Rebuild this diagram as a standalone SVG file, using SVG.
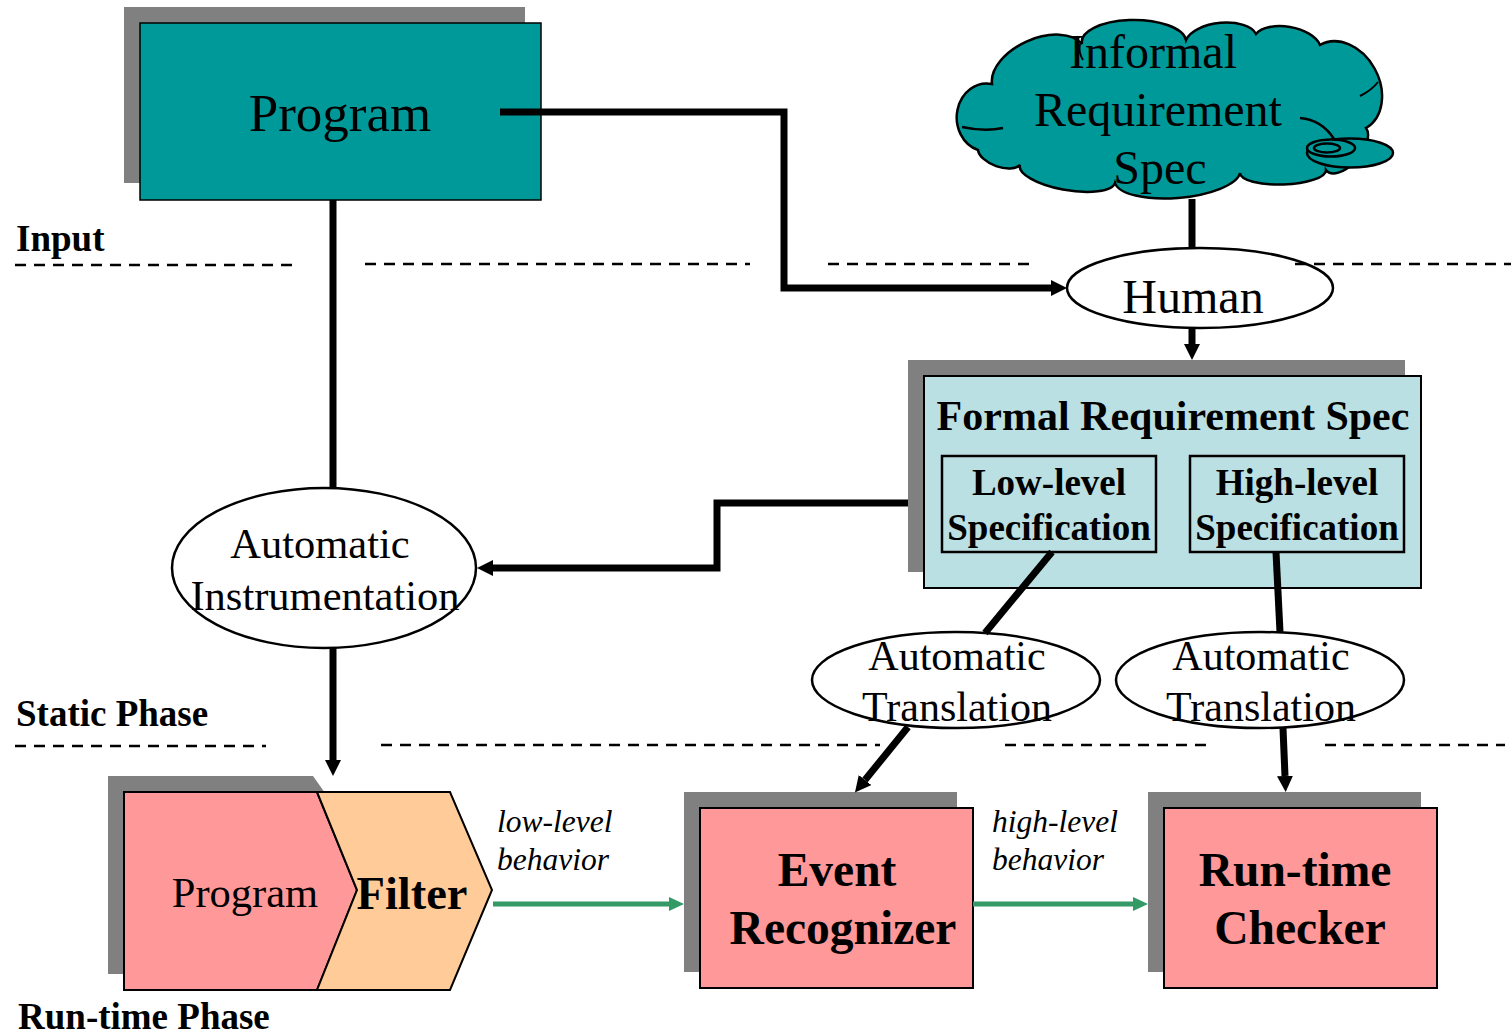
<svg xmlns="http://www.w3.org/2000/svg" width="1511" height="1035" viewBox="0 0 1511 1035">
<style>
text{font-family:"Liberation Serif","Times New Roman",serif;fill:#000}
.b{font-weight:bold}
.i{font-style:italic}
.mid{text-anchor:middle}
.sh{fill:#808080}
.edge{fill:none;stroke:#000;stroke-width:7}
.green{fill:none;stroke:#339966;stroke-width:5}
.dash{fill:none;stroke:#000;stroke-width:2.5;stroke-dasharray:11 8}
.ell{fill:#fff;stroke:#000;stroke-width:2.5}
</style>
<defs>
<marker id="ah" markerUnits="userSpaceOnUse" markerWidth="16" markerHeight="16" viewBox="0 0 16 16" refX="0" refY="8" orient="auto">
<path d="M0,0 L16,8 L0,16 z" fill="#000"/>
</marker>
<marker id="gh" markerUnits="userSpaceOnUse" markerWidth="15" markerHeight="15" viewBox="0 0 15 15" refX="0" refY="7.5" orient="auto">
<path d="M0,0.5 L15,7.5 L0,14.5 z" fill="#339966"/>
</marker>
</defs>
<rect width="1511" height="1035" fill="#fff"/>

<g id="program-top">
<rect class="sh" x="124" y="7" width="401" height="176"/>
<rect x="140" y="23" width="401" height="177" fill="#009999" stroke="#000" stroke-width="1.5"/>
<text class="mid" x="340" y="131" font-size="53">Program</text>
</g>

<g id="informal-spec">
<path d="M978,150 A30,34 0 0 1 992,84 A50,30 -24 0 1 1082,44 A52,22 0 0 1 1186,40 A36,18 -6 0 1 1256,34 A34,18 10 0 1 1320,45 A47,36 62 0 1 1366,128 A27,14 -50 0 1 1326,170 A43,13 -2 0 1 1240,173 A63,22 -5 0 1 1115,183 A48,16 10 0 1 1020,165 A23,12 20 0 1 978,150 Z" fill="#009999" stroke="#000" stroke-width="2.5"/>
<path d="M962,127 Q985,132 1003,128" fill="none" stroke="#000" stroke-width="2.5"/>
<path d="M1300,118 Q1322,120 1334,139" fill="none" stroke="#000" stroke-width="2.5"/>
<path d="M1080,44 Q1078,52 1083,60" fill="none" stroke="#000" stroke-width="2"/>
<path d="M1360,96 Q1372,90 1378,82" fill="none" stroke="#000" stroke-width="2"/>
<ellipse cx="1350" cy="153" rx="43" ry="14.5" fill="#009999" stroke="#000" stroke-width="2.5"/>
<ellipse cx="1331" cy="148" rx="24" ry="8.5" fill="#009999" stroke="#000" stroke-width="2.5"/>
<ellipse cx="1327" cy="148" rx="13" ry="4.5" fill="#009999" stroke="#000" stroke-width="2.5"/>
<text class="mid" x="1153" y="68" font-size="48">Informal</text>
<text class="mid" x="1158" y="126" font-size="48">Requirement</text>
<text class="mid" x="1160" y="184" font-size="48">Spec</text>
</g>

<g id="human">
<ellipse class="ell" cx="1200" cy="288" rx="133" ry="40"/>
<text class="mid" x="1193" y="313" font-size="48">Human</text>
</g>

<g id="formal-spec">
<rect class="sh" x="908" y="360" width="497" height="212"/>
<rect x="924" y="376" width="497" height="212" fill="#BBE0E3" stroke="#000" stroke-width="2"/>
<text class="b mid" x="1173" y="430" font-size="42">Formal Requirement Spec</text>
<g id="low-level-spec">
<rect x="942" y="456" width="214" height="96" fill="none" stroke="#000" stroke-width="2.5"/>
<text class="b mid" x="1049" y="495" font-size="37">Low-level</text>
<text class="b mid" x="1049" y="540" font-size="37">Specification</text>
</g>
<g id="high-level-spec">
<rect x="1190" y="456" width="214" height="96" fill="none" stroke="#000" stroke-width="2.5"/>
<text class="b mid" x="1297" y="495" font-size="37">High-level</text>
<text class="b mid" x="1297" y="540" font-size="37">Specification</text>
</g>
</g>

<g id="auto-instrumentation">
<ellipse class="ell" cx="324" cy="568" rx="152" ry="80"/>
<text class="mid" x="320" y="558" font-size="42.5">Automatic</text>
<text class="mid" x="325" y="610" font-size="42.5">Instrumentation</text>
</g>

<g id="auto-translation-1">
<ellipse class="ell" cx="956" cy="680" rx="144" ry="48"/>
<text class="mid" x="957" y="670" font-size="42">Automatic</text>
<text class="mid" x="957" y="721" font-size="42">Translation</text>
</g>

<g id="auto-translation-2">
<ellipse class="ell" cx="1260" cy="680" rx="144" ry="48"/>
<text class="mid" x="1261" y="670" font-size="42">Automatic</text>
<text class="mid" x="1261" y="721" font-size="42">Translation</text>
</g>

<g id="program-filter">
<polygon class="sh" points="108,776 313,776 330,800 330,974 108,974"/>
<polygon points="124,792 317,792 357,890 317,990 124,990" fill="#FF9999" stroke="#000" stroke-width="2"/>
<polygon points="317,792 450,792 492,890 450,990 317,990 357,890" fill="#FFCC99" stroke="#000" stroke-width="2"/>
<text class="mid" x="245" y="907" font-size="42.5">Program</text>
<text class="b mid" x="412" y="909" font-size="46.5">Filter</text>
</g>

<g id="event-recognizer">
<rect class="sh" x="684" y="792" width="273" height="180"/>
<rect x="700" y="808" width="273" height="180" fill="#FF9999" stroke="#000" stroke-width="2"/>
<text class="b mid" x="837" y="886" font-size="47.5">Event</text>
<text class="b mid" x="843" y="944" font-size="47.5">Recognizer</text>
</g>

<g id="runtime-checker">
<rect class="sh" x="1148" y="792" width="273" height="180"/>
<rect x="1164" y="808" width="273" height="180" fill="#FF9999" stroke="#000" stroke-width="2"/>
<text class="b mid" x="1295" y="886" font-size="47.5">Run-time</text>
<text class="b mid" x="1300" y="944" font-size="47.5">Checker</text>
</g>

<g id="connectors">
<path class="edge" d="M500,112 H784 V288 H1051" marker-end="url(#ah)"/>
<path class="edge" d="M908,503 H717 V568 H493" marker-end="url(#ah)"/>
<path class="edge" d="M333,200 V488"/>
<path class="edge" d="M333,648 V760" marker-end="url(#ah)"/>
<path class="edge" d="M1192,199 V248"/>
<path class="edge" d="M1192,327 V344" marker-end="url(#ah)"/>
<path class="edge" d="M1052,552 L985,633"/>
<path class="edge" d="M908,727 L865,780" marker-end="url(#ah)"/>
<path class="edge" d="M1276,552 L1280,632"/>
<path class="edge" d="M1283,728 L1285,776" marker-end="url(#ah)"/>
<path class="green" d="M493,904 H669" marker-end="url(#gh)"/>
<path class="green" d="M973,904 H1133" marker-end="url(#gh)"/>
</g>

<g id="phase-lines">
<path class="dash" d="M15,265 H300 M365,264 H750 M828,264 H1037 M1295,264 H1511"/>
<path class="dash" d="M15,746 H266 M381,745 H880 M1005,745 H1213 M1325,745 H1505"/>
</g>

<g id="labels">
<text class="b" x="16" y="251" font-size="37">Input</text>
<text class="b" x="16" y="726" font-size="37">Static Phase</text>
<text class="b" x="18" y="1029" font-size="37">Run-time Phase</text>
<text class="i" x="497" y="832" font-size="31.5">low-level</text>
<text class="i" x="497" y="870" font-size="31.5">behavior</text>
<text class="i" x="992" y="832" font-size="31.5">high-level</text>
<text class="i" x="992" y="870" font-size="31.5">behavior</text>
</g>
</svg>
